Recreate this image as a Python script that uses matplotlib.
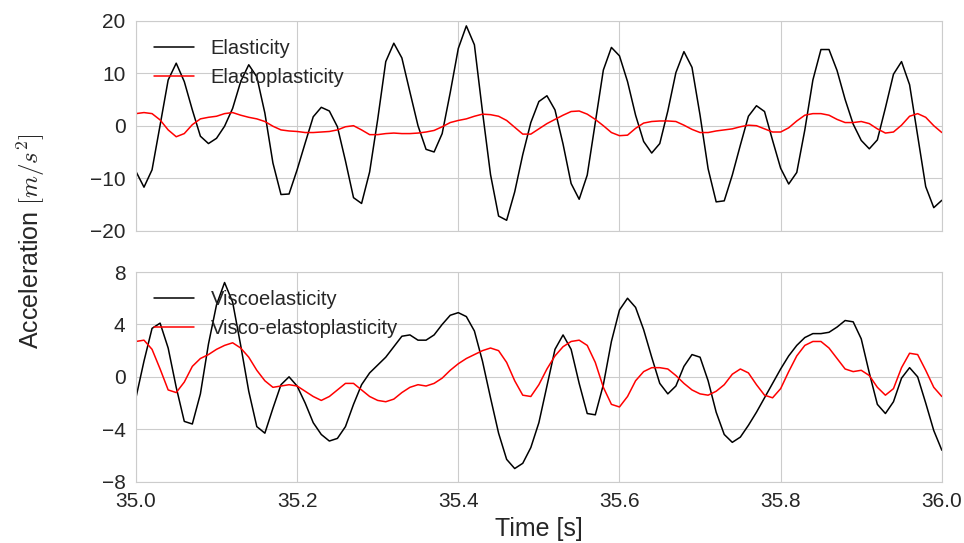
import numpy as np
import matplotlib
matplotlib.use("Agg")
import matplotlib.pyplot as plt
import seaborn as sns

# ------------------------------------
# datos (paso 0.01 s)
tiempo = np.round(35.0 + 0.01 * np.arange(101), 2)

elasticity = [-8.7, -11.7, -8.4, 0.1, 8.7, 11.9, 8.4, 3.0, -2.0, -3.4,
              -2.4, -0.1, 3.3, 8.4, 11.6, 9.3, 2.4, -7.1, -13.1, -13.0,
              -8.4, -3.3, 1.7, 3.5, 2.8, -0.2, -6.7, -13.7, -14.8, -8.8,
              1.2, 12.2, 15.7, 12.9, 6.4, 0.0, -4.5, -5.0, -1.5, 6.3,
              14.7, 19.0, 15.4, 2.7, -9.3, -17.2, -18.0, -12.6, -5.5, 0.6,
              4.6, 5.7, 3.0, -3.5, -11.0, -14.0, -9.4, 0.6, 10.6, 14.9,
              13.3, 8.4, 2.0, -3.0, -5.2, -3.4, 2.8, 10.1, 14.1, 11.1,
              2.0, -8.2, -14.5, -14.3, -9.4, -3.7, 1.8, 3.8, 2.7, -2.8,
              -8.1, -11.1, -8.9, -0.8, 8.7, 14.5, 14.5, 10.5, 5.0, 0.3,
              -2.8, -4.4, -2.7, 3.4, 9.8, 12.2, 7.8, -1.9, -11.6, -15.6, -14.2]

elastoplasticity = [2.3, 2.5, 2.3, 1.1, -0.8, -2.1, -1.5, 0.2, 1.3, 1.6,
                    1.8, 2.3, 2.5, 2.0, 1.6, 1.3, 0.8, -0.1, -0.8, -1.0,
                    -1.1, -1.3, -1.3, -1.2, -1.1, -0.8, -0.2, 0.0, -0.8, -1.7,
                    -1.7, -1.5, -1.4, -1.5, -1.5, -1.4, -1.2, -0.9, -0.2, 0.6,
                    1.0, 1.3, 1.8, 2.2, 2.1, 1.8, 1.0, -0.3, -1.6, -1.6,
                    -0.6, 0.4, 1.2, 2.0, 2.7, 2.8, 2.2, 1.2, 0.0, -1.3,
                    -1.9, -1.8, -0.5, 0.5, 0.8, 0.9, 0.9, 0.8, 0.1, -0.7,
                    -1.3, -1.3, -1.0, -0.8, -0.6, -0.2, 0.1, 0.0, -0.6, -1.2,
                    -1.2, -0.4, 0.9, 2.0, 2.3, 2.3, 2.0, 1.2, 0.6, 0.6,
                    0.8, 0.4, -0.6, -1.4, -1.2, 0.1, 1.8, 2.3, 1.6, 0.0, -1.3]

viscoelasticity = [-1.6, 1.2, 3.7, 4.1, 2.2, -0.8, -3.4, -3.6, -1.3, 2.5,
                   5.5, 7.2, 5.7, 2.4, -1.1, -3.8, -4.3, -2.4, -0.6, 0.0,
                   -0.7, -2.0, -3.5, -4.4, -4.9, -4.7, -3.8, -2.1, -0.6, 0.3,
                   0.9, 1.5, 2.3, 3.1, 3.2, 2.8, 2.8, 3.2, 4.0, 4.7,
                   4.9, 4.6, 3.5, 1.2, -1.6, -4.3, -6.3, -7.0, -6.6, -5.4,
                   -3.5, -0.7, 2.1, 3.2, 2.1, -0.5, -2.8, -2.9, -0.6, 2.7,
                   5.1, 6.0, 5.3, 3.6, 1.5, -0.5, -1.3, -0.7, 0.8, 1.7,
                   1.5, -0.3, -2.7, -4.4, -5.0, -4.6, -3.7, -2.7, -1.6, -0.5,
                   0.6, 1.6, 2.4, 3.0, 3.3, 3.3, 3.4, 3.8, 4.3, 4.2,
                   2.9, 0.3, -2.1, -2.8, -1.9, -0.1, 0.7, 0.0, -2.0, -4.1, -5.6]

visco_elastoplasticity = [2.7, 2.8, 2.1, 0.6, -1.0, -1.2, -0.4, 0.8, 1.4, 1.7,
                          2.1, 2.4, 2.6, 2.2, 1.5, 0.5, -0.3, -0.8, -0.7, -0.6,
                          -0.7, -1.1, -1.5, -1.8, -1.5, -1.0, -0.5, -0.5, -1.0, -1.5,
                          -1.8, -1.9, -1.7, -1.2, -0.8, -0.6, -0.7, -0.5, -0.1, 0.5,
                          1.0, 1.4, 1.7, 2.0, 2.2, 2.0, 1.1, -0.3, -1.4, -1.5,
                          -0.6, 0.6, 1.6, 2.3, 2.7, 2.8, 2.4, 1.1, -0.8, -2.1,
                          -2.3, -1.5, -0.3, 0.4, 0.7, 0.7, 0.6, 0.1, -0.5, -1.0,
                          -1.3, -1.4, -1.1, -0.6, 0.2, 0.6, 0.3, -0.6, -1.4, -1.6,
                          -0.9, 0.4, 1.6, 2.4, 2.7, 2.7, 2.2, 1.4, 0.6, 0.4,
                          0.5, 0.1, -0.8, -1.4, -0.9, 0.7, 1.8, 1.7, 0.5, -0.8, -1.5]

xticks = [35.0, 35.2, 35.4, 35.6, 35.8, 36.0]
yticks_sup = [-20, -10, 0, 10, 20]
yticks_inf = [-8, -4, 0, 4, 8]
# ------------------------------------

sns.set_style("whitegrid")
plt.rcParams['font.family'] = ['Liberation Sans', 'DejaVu Sans']
plt.rcParams['mathtext.fontset'] = 'cm'

fig = plt.figure(figsize=(9.64, 5.43), dpi=100)
ax1 = fig.add_axes([0.141, 0.575, 0.836, 0.387])
ax2 = fig.add_axes([0.141, 0.113, 0.836, 0.386])

leg_kw = dict(loc='upper left', frameon=False, fontsize=14.5, handlelength=2.0,
              handletextpad=0.8, borderaxespad=0.5, labelspacing=0.5)

ax1.plot(tiempo, elasticity, color='black', lw=1.1, label='Elasticity')
ax1.plot(tiempo, elastoplasticity, color='red', lw=1.1, label='Elastoplasticity')
ax1.set_xlim(35, 36)
ax1.set_ylim(-20, 20)
ax1.set_xticks(xticks)
ax1.set_xticklabels([])
ax1.set_yticks(yticks_sup)
ax1.legend(**leg_kw)

ax2.plot(tiempo, viscoelasticity, color='black', lw=1.1, label='Viscoelasticity')
ax2.plot(tiempo, visco_elastoplasticity, color='red', lw=1.1, label='Visco-elastoplasticity')
ax2.set_xlim(35, 36)
ax2.set_ylim(-8, 8)
ax2.set_xticks(xticks)
ax2.set_xticklabels(['%.1f' % t for t in xticks])
ax2.set_yticks(yticks_inf)
ax2.legend(**leg_kw)
ax2.set_xlabel('Time [s]', fontsize=18, labelpad=4)

for ax in (ax1, ax2):
    ax.tick_params(labelsize=15, pad=4)
    for s in ax.spines.values():
        s.set_color('0.8')

fig.text(0.032, 0.555, r'Acceleration $[m/s^2]$', rotation=90, fontsize=18,
         ha='center', va='center', color='0.15')

fig.savefig('out.png', dpi=100)
